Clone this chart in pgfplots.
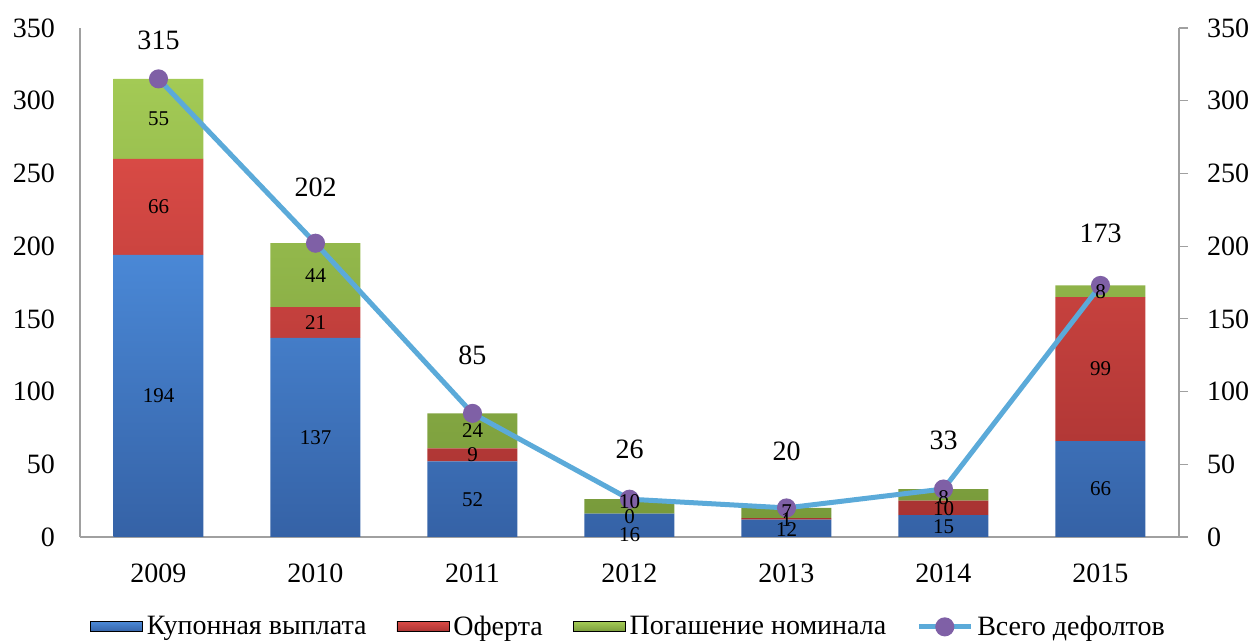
\documentclass[border=0pt]{standalone}
\usepackage{fontspec}
\setmainfont{Liberation Serif}
\usepackage{pgfplots}
\usepackage{pgfplotstable}
\pgfplotsset{compat=1.18}

\definecolor{blueT}{HTML}{4A88D6}
\definecolor{blueB}{HTML}{3562A6}
\definecolor{redT}{HTML}{D84A45}
\definecolor{redB}{HTML}{A83332}
\definecolor{greenT}{HTML}{A3CA55}
\definecolor{greenB}{HTML}{789A3B}
\definecolor{lineC}{HTML}{5BAAD9}
\definecolor{markC}{HTML}{7F60A6}
\definecolor{axC}{HTML}{A0A0A0}

\newcommand{\fbig}{\fontsize{14}{16}\selectfont}
\newcommand{\fsmall}{\fontsize{10.5}{12}\selectfont}

% x kup = coupon, of = offer, pog = redemption
\pgfplotstableread{
x kup of pog
0 194 66 55
1 137 21 44
2 52 9 24
3 16 0 10
4 12 1 7
5 15 10 8
6 66 99 8
}\bars

\pgfplotstableread{
x tot
0 315
1 202
2 85
3 26
4 20
5 33
6 173
}\total

% segment labels, y where the label sits
\pgfplotstableread{
x y t
0 97 194
0 227 66
0 287.5 55
1 68.5 137
1 147.5 21
1 180 44
2 26 52
2 56.5 9
2 73 24
3 1.4 16
3 13.7 0
3 24 10
4 4.8 12
4 11.7 1
4 17.2 7
5 6.9 15
5 19.2 10
5 26.8 8
6 33 66
6 115.5 99
6 169 8
}\inner

\pgfplotstableread{
x y t
0 341.6 315
1 240.5 202
2 125 85
3 60.5 26
4 59 20
5 66.7 33
6 209 173
}\tops

\pgfplotsset{
  base/.style={
    scale only axis, width=549.5pt, height=254.5pt,
    at={(0,0)}, anchor=south west,
    xmin=-0.5, xmax=6.5, ymin=0, ymax=350,
    ytick={0,50,...,350},
    axis line style={draw=axC, line width=0.6pt},
    tick style={draw=axC, line width=0.6pt},
    tick label style={font=\fbig},
    /pgf/number format/assume math mode=true,
  },
}

\begin{document}
\begin{tikzpicture}
\useasboundingbox (-40pt,-52.5pt) rectangle (586pt,268.5pt);

\begin{axis}[base,
    axis x line*=bottom, axis y line*=left,
    major tick length=0pt,
    xtick={0,...,6},
    xticklabels={2009,2010,2011,2012,2013,2014,2015},
    xticklabel style={yshift=-10pt},
    yticklabel style={xshift=-9pt},
    ybar stacked, bar width=45pt,
]
\addplot[draw=none, top color=blueT, bottom color=blueB] table[x=x, y=kup] {\bars};
\addplot[draw=none, top color=redT, bottom color=redB] table[x=x, y=of] {\bars};
\addplot[draw=none, top color=greenT, bottom color=greenB] table[x=x, y=pog] {\bars};
\end{axis}

\begin{axis}[base,
    axis x line=none, axis y line*=right,
    tick align=outside, major tick length=4.5pt,
    yticklabel style={xshift=6pt},
    legend columns=4,
    legend style={at={(0.5,-0.138)}, anchor=north, draw=none, fill=none,
      font=\fbig, /tikz/every even column/.append style={column sep=13pt}},
]
\addlegendimage{legend image code/.code={\shade[top color=blueT, bottom color=blueB] (0pt,-2.5pt) rectangle (26pt,2.5pt);}}
\addlegendentry{Купонная выплата}
\addlegendimage{legend image code/.code={\shade[top color=redT, bottom color=redB] (0pt,-2.5pt) rectangle (26pt,2.5pt);}}
\addlegendentry{Оферта}
\addlegendimage{legend image code/.code={\shade[top color=greenT, bottom color=greenB] (0pt,-2.5pt) rectangle (26pt,2.5pt);}}
\addlegendentry{Погашение номинала}

\addplot[color=lineC, line width=2.5pt, mark=*, mark size=3.5pt,
  mark options={fill=markC, draw=markC},
  legend image code/.code={
    \draw[lineC, line width=2.5pt] (0pt,0pt) -- (26pt,0pt);
    \fill[markC] (13pt,0pt) circle (3.5pt);}]
  table[x=x, y=tot] {\total};
\addlegendentry{Всего дефолтов}

\addplot[forget plot, draw=none, mark=none, nodes near coords,
  point meta=explicit symbolic,
  every node near coord/.style={anchor=center, font=\fsmall, inner sep=0pt}]
  table[x=x, y=y, meta=t] {\inner};
\addplot[forget plot, draw=none, mark=none, nodes near coords,
  point meta=explicit symbolic,
  every node near coord/.style={anchor=center, font=\fbig, inner sep=0pt}]
  table[x=x, y=y, meta=t] {\tops};
\end{axis}
\end{tikzpicture}
\end{document}
